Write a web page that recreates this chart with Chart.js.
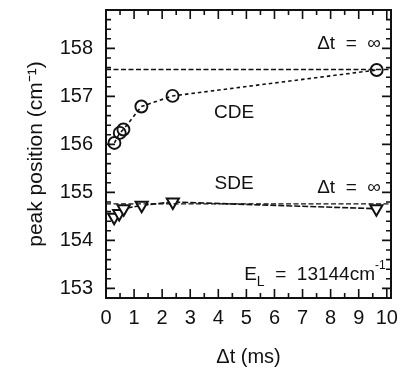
<!DOCTYPE html>
<html>
<head>
<meta charset="utf-8">
<script src="https://cdn.jsdelivr.net/npm/chart.js@4.4.1/dist/chart.umd.min.js"></script>
<style>
  html, body { margin: 0; padding: 0; background: #fff; }
  #wrap { width: 400px; height: 372px; }
</style>
</head>
<body>
<div id="wrap"><canvas id="c" width="400" height="372"></canvas></div>
<script>
// Delay times (ms) and peak positions (cm^-1)
const cdeT = [0.30, 0.49, 0.62, 1.26, 2.37, 9.64];
const cdePeak = [156.03, 156.24, 156.31, 156.79, 157.01, 157.55];
const sdeT = [0.29, 0.47, 0.63, 1.27, 2.38, 9.63];
const sdePeak = [154.48, 154.56, 154.66, 154.73, 154.80, 154.66];

// Limiting values for infinite delay
const cdeInfinity = [157.56];
const sdeInfinity = [154.76];

// Axis ranges and tick labels
const xRange = [0, 10.15];
const yRange = [152.8, 158.8];
const xTickLabels = [0, 1, 2, 3, 4, 5, 6, 7, 8, 9, 10];
const yTickLabels = [153, 154, 155, 156, 157, 158];

const FONT = '"Liberation Sans", Arial, sans-serif';
const INK = '#111';

const pts = (xs, ys) => xs.map((x, i) => ({ x, y: ys[i] }));
const hline = (v) => [{ x: xRange[0], y: v }, { x: xRange[1], y: v }];

// Text placed in data coordinates
const notes = [
  { text: 'Δt  =  ∞', x: 9.79, y: 158.09, align: 'right' },
  { text: 'CDE', x: 4.56, y: 156.65, align: 'center' },
  { text: 'SDE', x: 4.56, y: 155.17, align: 'center' },
  { text: 'Δt  =  ∞', x: 9.79, y: 155.09, align: 'right' }
];

const framePlugin = {
  id: 'frame',
  afterDraw(chart) {
    const { ctx, chartArea: a, scales: { x, y } } = chart;
    ctx.save();
    ctx.strokeStyle = INK;
    // inward ticks on all four sides
    ctx.lineWidth = 1.6;
    ctx.beginPath();
    for (let v = 0.5; v < xRange[1]; v += 0.5) {
      const px = x.getPixelForValue(v);
      const len = Math.abs(v - Math.round(v)) < 1e-6 ? 9 : 5;
      ctx.moveTo(px, a.bottom); ctx.lineTo(px, a.bottom - len);
      ctx.moveTo(px, a.top); ctx.lineTo(px, a.top + len);
    }
    for (let v = 153; v < yRange[1] - 1e-6; v += 0.2) {
      const py = y.getPixelForValue(v);
      const len = Math.abs(v - Math.round(v)) < 1e-6 ? 9 : 5;
      ctx.moveTo(a.left, py); ctx.lineTo(a.left + len, py);
      ctx.moveTo(a.right, py); ctx.lineTo(a.right - len, py);
    }
    ctx.stroke();
    // frame
    ctx.lineWidth = 2;
    ctx.strokeRect(a.left, a.top, a.right - a.left, a.bottom - a.top);

    // annotations
    ctx.fillStyle = INK;
    ctx.textBaseline = 'middle';
    ctx.font = '19px ' + FONT;
    notes.forEach(n => {
      ctx.textAlign = n.align;
      ctx.fillText(n.text, x.getPixelForValue(n.x), y.getPixelForValue(n.y));
    });

    // excitation energy label with sub- and superscript
    let px = x.getPixelForValue(4.92);
    const base = y.getPixelForValue(153.175);
    ctx.textAlign = 'left';
    ctx.textBaseline = 'alphabetic';
    ctx.font = '19px ' + FONT;
    ctx.fillText('E', px, base);
    px += ctx.measureText('E').width;
    ctx.font = '14px ' + FONT;
    ctx.fillText('L', px, base + 6);
    px += ctx.measureText('L').width;
    ctx.font = '19px ' + FONT;
    const mid = '  =  13144cm';
    ctx.fillText(mid, px, base);
    px += ctx.measureText(mid).width;
    ctx.font = '12px ' + FONT;
    ctx.fillText('-1', px, base - 11);
    ctx.restore();
  }
};

new Chart(document.getElementById('c'), {
  type: 'scatter',
  data: {
    datasets: [
      {
        data: hline(cdeInfinity[0]), showLine: true, pointRadius: 0,
        borderColor: INK, borderWidth: 1.4, borderDash: [5, 2.5]
      },
      {
        data: hline(sdeInfinity[0]), showLine: true, pointRadius: 0,
        borderColor: INK, borderWidth: 1.4, borderDash: [5, 2.5]
      },
      {
        data: pts(cdeT, cdePeak), showLine: true,
        borderColor: INK, borderWidth: 1.6, borderDash: [3.5, 3],
        pointStyle: 'circle', pointRadius: 6, pointBorderWidth: 1.9,
        pointBackgroundColor: 'rgba(0,0,0,0)', pointBorderColor: INK
      },
      {
        data: pts(sdeT, sdePeak), showLine: true,
        borderColor: INK, borderWidth: 1.6, borderDash: [6, 2],
        pointStyle: 'triangle', rotation: 180, pointRadius: 7, pointBorderWidth: 2,
        pointBackgroundColor: '#fff', pointBorderColor: INK
      }
    ]
  },
  options: {
    responsive: false,
    animation: false,
    events: [],
    layout: { padding: { top: 10, right: 8, left: 0, bottom: 0 } },
    plugins: { legend: { display: false }, tooltip: { enabled: false } },
    scales: {
      x: {
        type: 'linear', position: 'bottom', min: xRange[0], max: xRange[1],
        afterBuildTicks: s => { s.ticks = xTickLabels.map(v => ({ value: v })); },
        afterFit: s => { s.height = 74; s.paddingLeft = 0; s.paddingRight = 0; },
        grid: { display: false, drawTicks: false },
        border: { display: false },
        ticks: { color: INK, font: { family: FONT, size: 20 }, padding: 8, maxRotation: 0, autoSkip: false },
        title: { display: true, text: 'Δt (ms)', color: INK, font: { family: FONT, size: 20 }, padding: { top: 0, bottom: 3 } }
      },
      y: {
        type: 'linear', position: 'left', min: yRange[0], max: yRange[1],
        afterBuildTicks: s => { s.ticks = yTickLabels.map(v => ({ value: v })); },
        afterFit: s => { s.width = 106; s.paddingTop = 0; s.paddingBottom = 0; },
        grid: { display: false, drawTicks: false },
        border: { display: false },
        ticks: { color: INK, font: { family: FONT, size: 20 }, padding: 13, autoSkip: false },
        title: { display: true, text: 'peak position (cm⁻¹)', color: INK, font: { family: FONT, size: 21 }, padding: { top: 24, bottom: 0 } }
      }
    }
  },
  plugins: [framePlugin]
});
</script>
</body>
</html>
